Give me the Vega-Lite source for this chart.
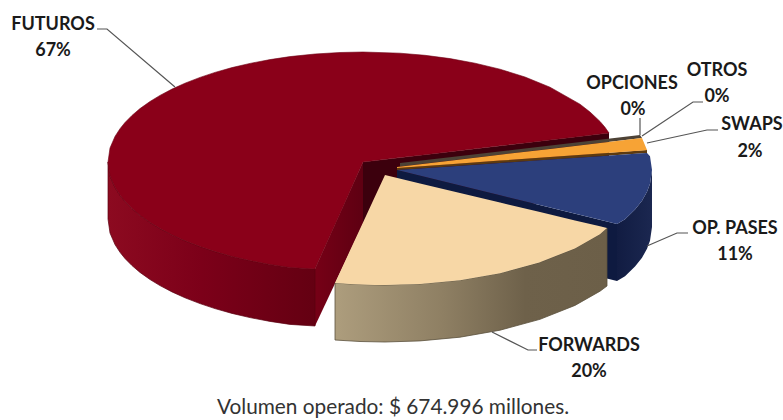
{
  "$schema": "https://vega.github.io/schema/vega-lite/v6.json",
  "width": 783,
  "height": 420,
  "padding": 0,
  "autosize": {"type": "none"},
  "background": "white",
  "config": {"view": {"stroke": null}},
  "datasets": {
    "faces": [
      {"part":"futuros_cut_back","x":363,"y":162,"y2":235},
      {"part":"futuros_cut_back","x":609,"y":133,"y2":190},
      {"part":"futuros_cut_front","x":315,"y":269,"y2":326},
      {"part":"futuros_cut_front","x":363,"y":162,"y2":224},

      {"part":"futuros_wall","x":108,"y":162,"y2":219},
      {"part":"futuros_wall","x":110,"y":176,"y2":233},
      {"part":"futuros_wall","x":115,"y":187.6,"y2":244.6},
      {"part":"futuros_wall","x":120,"y":195.3,"y2":252.3},
      {"part":"futuros_wall","x":125,"y":201.5,"y2":258.5},
      {"part":"futuros_wall","x":132,"y":208.6,"y2":265.6},
      {"part":"futuros_wall","x":140,"y":215.4,"y2":272.4},
      {"part":"futuros_wall","x":150,"y":222.5,"y2":279.5},
      {"part":"futuros_wall","x":160,"y":228.6,"y2":285.6},
      {"part":"futuros_wall","x":172,"y":234.9,"y2":291.9},
      {"part":"futuros_wall","x":185,"y":240.8,"y2":297.8},
      {"part":"futuros_wall","x":200,"y":246.6,"y2":303.6},
      {"part":"futuros_wall","x":215,"y":251.6,"y2":308.6},
      {"part":"futuros_wall","x":232,"y":256.4,"y2":313.4},
      {"part":"futuros_wall","x":250,"y":260.6,"y2":317.6},
      {"part":"futuros_wall","x":270,"y":264.4,"y2":321.4},
      {"part":"futuros_wall","x":290,"y":267.4,"y2":324.4},
      {"part":"futuros_wall","x":315,"y":269,"y2":326},

      {"part":"futuros_top","x":108,"y":162,"y2":162},
      {"part":"futuros_top","x":110,"y":148,"y2":176},
      {"part":"futuros_top","x":115,"y":136.4,"y2":187.6},
      {"part":"futuros_top","x":120,"y":128.7,"y2":195.3},
      {"part":"futuros_top","x":125,"y":122.5,"y2":201.5},
      {"part":"futuros_top","x":132,"y":115.4,"y2":208.6},
      {"part":"futuros_top","x":140,"y":108.6,"y2":215.4},
      {"part":"futuros_top","x":150,"y":101.5,"y2":222.5},
      {"part":"futuros_top","x":160,"y":95.4,"y2":228.6},
      {"part":"futuros_top","x":172,"y":89.1,"y2":234.9},
      {"part":"futuros_top","x":185,"y":83.2,"y2":240.8},
      {"part":"futuros_top","x":200,"y":77.4,"y2":246.6},
      {"part":"futuros_top","x":215,"y":72.4,"y2":251.6},
      {"part":"futuros_top","x":232,"y":67.6,"y2":256.4},
      {"part":"futuros_top","x":250,"y":63.4,"y2":260.6},
      {"part":"futuros_top","x":270,"y":59.6,"y2":264.4},
      {"part":"futuros_top","x":290,"y":56.6,"y2":267.4},
      {"part":"futuros_top","x":315,"y":54,"y2":269},
      {"part":"futuros_top","x":340,"y":52.5,"y2":213.8},
      {"part":"futuros_top","x":363,"y":52,"y2":162},
      {"part":"futuros_top","x":400,"y":53.2,"y2":157.6},
      {"part":"futuros_top","x":425,"y":55.3,"y2":154.7},
      {"part":"futuros_top","x":450,"y":58.6,"y2":151.7},
      {"part":"futuros_top","x":475,"y":63.2,"y2":148.8},
      {"part":"futuros_top","x":500,"y":69.2,"y2":145.8},
      {"part":"futuros_top","x":525,"y":77,"y2":142.9},
      {"part":"futuros_top","x":550,"y":87.2,"y2":139.9},
      {"part":"futuros_top","x":580,"y":104.2,"y2":136.4},
      {"part":"futuros_top","x":590,"y":112,"y2":135.2},
      {"part":"futuros_top","x":600,"y":121.4,"y2":134},
      {"part":"futuros_top","x":605,"y":127.3,"y2":133.5},
      {"part":"futuros_top","x":609,"y":133,"y2":133},

      {"part":"otros_sliver","x":400,"y":163,"y2":166.5},
      {"part":"otros_sliver","x":640,"y":135,"y2":138.2},
      {"part":"otros_sliver","x":642,"y":138,"y2":138},

      {"part":"swaps_wall","x":397,"y":168,"y2":170},
      {"part":"swaps_wall","x":647,"y":150,"y2":153},

      {"part":"swaps_top","x":397,"y":167,"y2":168},
      {"part":"swaps_top","x":450,"y":160.7,"y2":164.2},
      {"part":"swaps_top","x":500,"y":154.8,"y2":160.6},
      {"part":"swaps_top","x":550,"y":148.9,"y2":157},
      {"part":"swaps_top","x":600,"y":143,"y2":153.4},
      {"part":"swaps_top","x":642,"y":138,"y2":150.4},
      {"part":"swaps_top","x":647,"y":150,"y2":150},

      {"part":"pases_cut","x":397,"y":170,"y2":227},
      {"part":"pases_cut","x":617,"y":224,"y2":281},

      {"part":"pases_wall","x":617,"y":224,"y2":281},
      {"part":"pases_wall","x":625,"y":219.3,"y2":276.3},
      {"part":"pases_wall","x":635,"y":209.5,"y2":266.5},
      {"part":"pases_wall","x":642,"y":200.8,"y2":257.8},
      {"part":"pases_wall","x":647,"y":191.7,"y2":248.7},
      {"part":"pases_wall","x":650,"y":183.8,"y2":240.8},
      {"part":"pases_wall","x":652,"y":170,"y2":227},

      {"part":"pases_top","x":397,"y":170,"y2":170},
      {"part":"pases_top","x":450,"y":166.4,"y2":183},
      {"part":"pases_top","x":500,"y":163,"y2":195.3},
      {"part":"pases_top","x":550,"y":159.6,"y2":207.6},
      {"part":"pases_top","x":600,"y":156.2,"y2":219.8},
      {"part":"pases_top","x":617,"y":155,"y2":224},
      {"part":"pases_top","x":625,"y":154.5,"y2":219.3},
      {"part":"pases_top","x":635,"y":153.8,"y2":209.5},
      {"part":"pases_top","x":642,"y":153.3,"y2":200.8},
      {"part":"pases_top","x":647,"y":153,"y2":191.7},
      {"part":"pases_top","x":650,"y":156.2,"y2":183.8},
      {"part":"pases_top","x":652,"y":170,"y2":170},

      {"part":"forwards_wall","x":335,"y":283,"y2":340},
      {"part":"forwards_wall","x":360,"y":284.5,"y2":341.5},
      {"part":"forwards_wall","x":385,"y":285,"y2":342},
      {"part":"forwards_wall","x":420,"y":283.9,"y2":340.9},
      {"part":"forwards_wall","x":460,"y":280.2,"y2":337.2},
      {"part":"forwards_wall","x":500,"y":273.2,"y2":330.2},
      {"part":"forwards_wall","x":540,"y":262.3,"y2":319.3},
      {"part":"forwards_wall","x":575,"y":248.4,"y2":305.4},
      {"part":"forwards_wall","x":600,"y":234.2,"y2":291.2},
      {"part":"forwards_wall","x":607,"y":228,"y2":286},

      {"part":"forwards_top","x":335,"y":283,"y2":283},
      {"part":"forwards_top","x":350,"y":250.6,"y2":284},
      {"part":"forwards_top","x":360,"y":229,"y2":284.5},
      {"part":"forwards_top","x":375,"y":196.6,"y2":284.9},
      {"part":"forwards_top","x":385,"y":175,"y2":285},
      {"part":"forwards_top","x":420,"y":183.4,"y2":283.9},
      {"part":"forwards_top","x":460,"y":192.9,"y2":280.2},
      {"part":"forwards_top","x":500,"y":202.5,"y2":273.2},
      {"part":"forwards_top","x":540,"y":212,"y2":262.3},
      {"part":"forwards_top","x":575,"y":220.4,"y2":248.4},
      {"part":"forwards_top","x":600,"y":226.3,"y2":234.2},
      {"part":"forwards_top","x":607,"y":228,"y2":228}
    ],
    "leaders": [
      {"name":"FUTUROS","i":0,"x":97,"y":29},
      {"name":"FUTUROS","i":1,"x":107,"y":29},
      {"name":"FUTUROS","i":2,"x":175,"y":87},
      {"name":"OPCIONES","i":0,"x":640,"y":118},
      {"name":"OPCIONES","i":1,"x":640,"y":135},
      {"name":"OTROS","i":0,"x":703,"y":102},
      {"name":"OTROS","i":1,"x":693,"y":102},
      {"name":"OTROS","i":2,"x":642,"y":136},
      {"name":"SWAPS","i":0,"x":718,"y":130},
      {"name":"SWAPS","i":1,"x":707,"y":130},
      {"name":"SWAPS","i":2,"x":647,"y":143},
      {"name":"OP. PASES","i":0,"x":688,"y":233},
      {"name":"OP. PASES","i":1,"x":677,"y":233},
      {"name":"OP. PASES","i":2,"x":647,"y":246},
      {"name":"FORWARDS","i":0,"x":537,"y":350},
      {"name":"FORWARDS","i":1,"x":528,"y":350},
      {"name":"FORWARDS","i":2,"x":492,"y":332}
    ],
    "names": [
      {"name":"FUTUROS","x":53,"y":30},
      {"name":"OPCIONES","x":632,"y":89},
      {"name":"OTROS","x":717,"y":76},
      {"name":"SWAPS","x":752,"y":130},
      {"name":"OP. PASES","x":735,"y":234},
      {"name":"FORWARDS","x":589,"y":351}
    ],
    "shares": [
      {"name":"FUTUROS","share":0.67,"x":53,"y":56},
      {"name":"OPCIONES","share":0,"x":633,"y":115},
      {"name":"OTROS","share":0,"x":717,"y":102},
      {"name":"SWAPS","share":0.02,"x":750,"y":157},
      {"name":"OP. PASES","share":0.11,"x":735,"y":260},
      {"name":"FORWARDS","share":0.2,"x":589,"y":377}
    ],
    "footer": [
      {"note":"Volumen operado: $ 674.996 millones.","x":393,"y":414}
    ]
  },
  "encoding": {
    "x": {"field":"x","type":"quantitative","scale":{"domain":[0,783],"nice":false,"zero":false},"axis":null},
    "y": {"field":"y","type":"quantitative","scale":{"domain":[420,0],"nice":false,"zero":false},"axis":null}
  },
  "layer": [
    {
      "data":{"name":"faces"},
      "transform":[{"filter":"datum.part === 'futuros_cut_back'"}],
      "mark":{"type":"area","color":"#3c000d"},
      "encoding":{"y2":{"field":"y2"}}
    },
    {
      "data":{"name":"faces"},
      "transform":[{"filter":"datum.part === 'futuros_cut_front'"}],
      "mark":{"type":"area","color":{"gradient":"linear","x1":0,"y1":0,"x2":1,"y2":0,"stops":[{"offset":0,"color":"#760016"},{"offset":1,"color":"#5e0012"}]}},
      "encoding":{"y2":{"field":"y2"}}
    },
    {
      "data":{"name":"faces"},
      "transform":[{"filter":"datum.part === 'futuros_wall'"}],
      "mark":{"type":"area","stroke":"#5a0010","strokeWidth":0.7,"color":{"gradient":"linear","x1":0,"y1":0,"x2":1,"y2":0,"stops":[{"offset":0,"color":"#8c0a20"},{"offset":0.45,"color":"#7c0019"},{"offset":1,"color":"#640012"}]}},
      "encoding":{"y2":{"field":"y2"}}
    },
    {
      "data":{"name":"faces"},
      "transform":[{"filter":"datum.part === 'futuros_top'"}],
      "mark":{"type":"area","color":"#8a0019","stroke":"#6e0014","strokeWidth":0.6},
      "encoding":{"y2":{"field":"y2"}}
    },
    {
      "data":{"name":"faces"},
      "transform":[{"filter":"datum.part === 'otros_sliver'"}],
      "mark":{"type":"area","color":"#4d4236"},
      "encoding":{"y2":{"field":"y2"}}
    },
    {
      "data":{"name":"faces"},
      "transform":[{"filter":"datum.part === 'swaps_wall'"}],
      "mark":{"type":"area","color":"#5c3a10"},
      "encoding":{"y2":{"field":"y2"}}
    },
    {
      "data":{"name":"faces"},
      "transform":[{"filter":"datum.part === 'swaps_top'"}],
      "mark":{"type":"area","color":"#f7a335"},
      "encoding":{"y2":{"field":"y2"}}
    },
    {
      "data":{"name":"faces"},
      "transform":[{"filter":"datum.part === 'pases_cut'"}],
      "mark":{"type":"area","color":"#0e1a40"},
      "encoding":{"y2":{"field":"y2"}}
    },
    {
      "data":{"name":"faces"},
      "transform":[{"filter":"datum.part === 'pases_wall'"}],
      "mark":{"type":"area","color":{"gradient":"linear","x1":0,"y1":0,"x2":1,"y2":0,"stops":[{"offset":0,"color":"#111c42"},{"offset":1,"color":"#1b2750"}]}},
      "encoding":{"y2":{"field":"y2"}}
    },
    {
      "data":{"name":"faces"},
      "transform":[{"filter":"datum.part === 'pases_top'"}],
      "mark":{"type":"area","color":"#2c3f7c"},
      "encoding":{"y2":{"field":"y2"}}
    },
    {
      "data":{"name":"faces"},
      "transform":[{"filter":"datum.part === 'forwards_wall'"}],
      "mark":{"type":"area","stroke":"#5c523e","strokeWidth":0.8,"color":{"gradient":"linear","x1":0,"y1":0,"x2":1,"y2":0,"stops":[{"offset":0,"color":"#ad9d7d"},{"offset":0.4,"color":"#8e7f63"},{"offset":0.7,"color":"#6e614a"},{"offset":1,"color":"#6c5f48"}]}},
      "encoding":{"y2":{"field":"y2"}}
    },
    {
      "data":{"name":"faces"},
      "transform":[{"filter":"datum.part === 'forwards_top'"}],
      "mark":{"type":"area","color":"#f7d7a6"},
      "encoding":{"y2":{"field":"y2"}}
    },
    {
      "data":{"name":"leaders"},
      "mark":{"type":"line","color":"#555555","strokeWidth":1.2},
      "encoding":{"detail":{"field":"name"},"order":{"field":"i"}}
    },
    {
      "data":{"name":"names"},
      "mark":{"type":"text","font":"Lato","fontWeight":"bold","fontSize":18,"color":"#1a1a1a","align":"center","baseline":"alphabetic"},
      "encoding":{"text":{"field":"name"}}
    },
    {
      "data":{"name":"shares"},
      "mark":{"type":"text","font":"Lato","fontWeight":"bold","fontSize":18,"color":"#1a1a1a","align":"center","baseline":"alphabetic"},
      "encoding":{"text":{"field":"share","type":"quantitative","format":".0%"}}
    },
    {
      "data":{"name":"footer"},
      "mark":{"type":"text","font":"Lato","fontSize":20.8,"color":"#333333","align":"center","baseline":"alphabetic"},
      "encoding":{"text":{"field":"note"}}
    }
  ]
}
